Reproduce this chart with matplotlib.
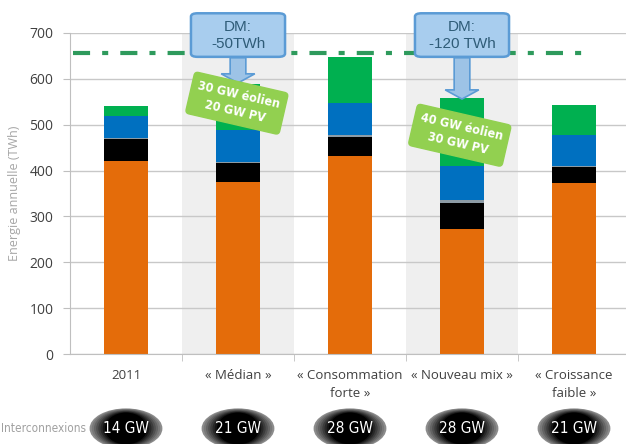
import matplotlib.pyplot as plt
import numpy as np
from matplotlib.patches import Ellipse, FancyBboxPatch, FancyArrow
from matplotlib.transforms import blended_transform_factory

# données (TWh)
scenarios = ['2011', '« Médian »', '« Consommation\nforte »', '« Nouveau mix »', '« Croissance\nfaible »']
nucleaire = [420, 375, 432, 272, 373]
fossile = [49, 41, 42, 58, 34]
autre = [2, 3, 4, 6, 2]
hydro = [49, 69, 69, 75, 68]
enr = [21, 100, 100, 148, 67]
seuil = 657
interco = ['14 GW', '21 GW', '28 GW', '28 GW', '21 GW']
dm_labels = {1: 'DM:\n-50TWh', 3: 'DM:\n-120 TWh'}
enr_labels = {1: '30 GW éolien\n20 GW PV', 3: '40 GW éolien\n30 GW PV'}

couleurs = ['#e46c0a', '#000000', '#8c9ba5', '#0070c0', '#00b050']
narrow = dict(family='DejaVu Sans', stretch='condensed')

fig = plt.figure(figsize=(6.26, 4.44), dpi=100)
ax = fig.add_axes([70 / 626, 90 / 444, 560 / 626, 321 / 444])

x = np.arange(len(scenarios))
# fond gris des scénarios mis en avant
for i in dm_labels:
    ax.axvspan(i - 0.5, i + 0.5, color='#efefef', zorder=0, lw=0)

bottom = np.zeros(len(x))
for serie, c in zip([nucleaire, fossile, autre, hydro, enr], couleurs):
    ax.bar(x, serie, 0.39, bottom=bottom, color=c, zorder=2, lw=0)
    bottom += np.array(serie)

ax.plot([-0.47, 4.16], [seuil, seuil], color='#2e9a5c', lw=3,
        dashes=(4.1, 2.9, 1.45, 2.9), dash_capstyle='butt', zorder=3, clip_on=False)

ax.set_xlim(-0.5, 4.5)
ax.set_ylim(0, 700)
ax.set_yticks(range(0, 701, 100))
ax.yaxis.grid(True, color='#c8c8c8', lw=1, zorder=1)
ax.set_axisbelow(True)
for s in ['top', 'right']:
    ax.spines[s].set_visible(False)
ax.spines['left'].set_color('#bfbfbf')
ax.spines['bottom'].set_color('#bfbfbf')
ax.set_xticks(x)
ax.set_xticklabels(scenarios, fontsize=9.5, color='#404040', family='Open Sans', linespacing=1.5)
ax.set_xticks(np.arange(0.5, 4.5, 1), minor=True)
ax.tick_params(axis='x', which='major', length=0, pad=11)
ax.tick_params(axis='x', which='minor', length=5, color='#bfbfbf')
ax.tick_params(axis='y', length=5, color='#bfbfbf', labelsize=10, labelcolor='#404040', pad=7)
for t in ax.get_yticklabels():
    t.set_family('Open Sans')
ax.set_ylabel('Energie annuelle (TWh)', fontsize=9, color='#a6a6a6', family='Open Sans', labelpad=6)

# bulles DM + flèches
for i, txt in dm_labels.items():
    box = FancyBboxPatch((i - 0.42, 648), 0.84, 95, boxstyle='round,pad=0,rounding_size=0.06',
                         mutation_aspect=120, fc='#a8cdee', ec='#5b9bd5', lw=1.8,
                         zorder=6, clip_on=False)
    ax.add_patch(box)
    ax.text(i, 695, txt, ha='center', va='center', fontsize=11, color='#2f5c78',
            family='Liberation Sans', zorder=7, linespacing=1.25, clip_on=False)
    tip = 591 if i == 1 else 556
    ax.add_patch(FancyArrow(i, 646, 0, tip - 646, width=0.14, head_width=0.3,
                            head_length=20, length_includes_head=True, fc='#9dc3e6',
                            ec='#5b9bd5', lw=1.2, zorder=6))

# étiquettes EnR
pos_enr = {1: (0.99, 547), 3: (2.98, 477)}
for i, txt in enr_labels.items():
    ax.text(*pos_enr[i], txt, ha='center', va='center', rotation=-13, fontsize=9,
            color='white', fontweight='bold', linespacing=1.45, zorder=8,
            bbox=dict(boxstyle='round,pad=0.48,rounding_size=0.3', fc='#92d050', ec='#92d050'),
            **narrow)

# interconnexions
tr = blended_transform_factory(ax.transData, ax.transAxes)
for i, lab in enumerate(interco):
    for k, g in enumerate(np.linspace(0.55, 0.0, 8)):
        s = 1 - k * 0.06
        ax.add_patch(Ellipse((i, -0.232), 0.65 * s, 0.125 * (1 - k * 0.03), transform=tr,
                             fc=str(g), ec='none', clip_on=False, zorder=5))
    ax.text(i, -0.232, lab, transform=tr, ha='center', va='center', color='white',
            fontsize=11, zorder=6, **narrow)
fig.text(1 / 626, 1 - 428 / 444, 'Interconnexions', ha='left', va='center', fontsize=8.5,
         color='#a0a0a0', **narrow)

fig.savefig('out.png', dpi=100)
